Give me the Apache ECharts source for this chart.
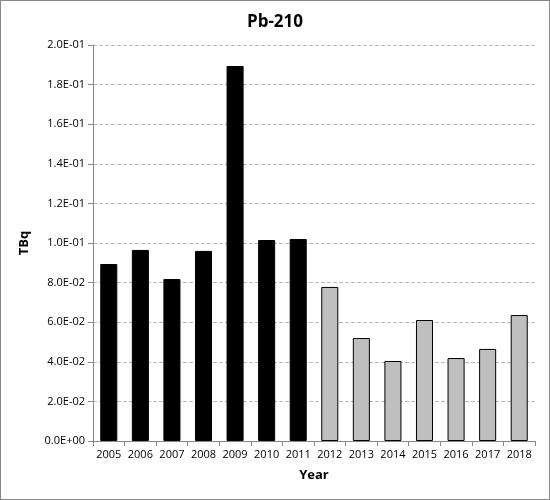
<!DOCTYPE html>
<html><head><meta charset="utf-8">
<script src="https://cdn.jsdelivr.net/npm/echarts@6/dist/echarts.min.js"></script>
<style>html,body{margin:0;padding:0;background:#fff}#c{width:550px;height:500px;box-sizing:border-box;border:1px solid #888}</style>
</head><body><div id="c"></div>
<script>
const years=['2005','2006','2007','2008','2009','2010','2011','2012','2013','2014','2015','2016','2017','2018'];
const values=[0.0894,0.0965,0.0818,0.0960,0.1894,0.1015,0.1020,0.0778,0.0520,0.0404,0.0611,0.0419,0.0465,0.0636];
const grayFrom=7;
const chart=echarts.init(document.getElementById('c'));
const F='Open Sans';
chart.setOption({
  animation:false,
  title:{text:'Pb-210',left:'center',top:8,textStyle:{fontFamily:F,fontSize:17,fontWeight:'bold',color:'#000'}},
  grid:{left:92,right:14,top:44,bottom:58},
  xAxis:{type:'category',data:years,name:'Year',nameLocation:'middle',nameGap:28,
    nameTextStyle:{fontFamily:F,fontSize:13,fontWeight:'bold',color:'#000'},
    axisLine:{lineStyle:{color:'#888'}},axisTick:{show:true,alignWithLabel:false,lineStyle:{color:'#888'}},
    axisLabel:{fontFamily:F,fontSize:11,color:'#000',interval:0}},
  yAxis:{type:'value',min:0,max:0.2,interval:0.02,name:'TBq',nameLocation:'middle',nameGap:62,
    nameTextStyle:{fontFamily:F,fontSize:13,fontWeight:'bold',color:'#000'},
    axisLine:{show:true,lineStyle:{color:'#888'}},axisTick:{show:true,lineStyle:{color:'#888'}},
    splitLine:{lineStyle:{type:'dashed',color:'#bbb'}},
    axisLabel:{fontFamily:F,fontSize:11,color:'#000',formatter:v=>{let s=v.toExponential(1).toUpperCase();return s.replace(/E([+-])(\d)$/,'E$10$2');}}},
  series:[{type:'bar',barWidth:'54%',
    data:values.map((v,i)=>({value:v,itemStyle:{color:i<grayFrom?'#000':'#bfbfbf',borderColor:'#000',borderWidth:1}}))}]
});
</script></body></html>
